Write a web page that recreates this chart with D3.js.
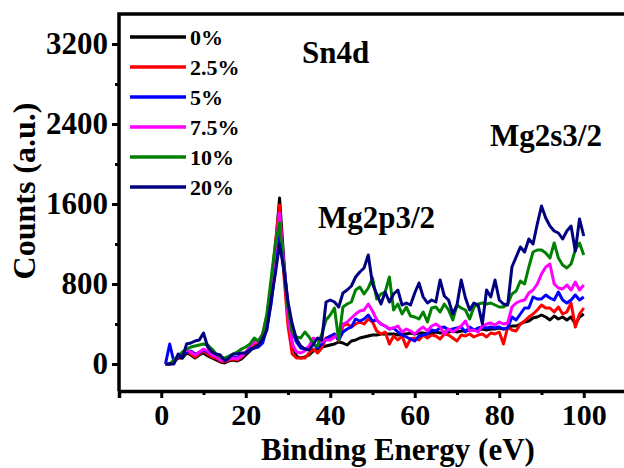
<!DOCTYPE html>
<html>
<head>
<meta charset="utf-8">
<script src="https://cdn.jsdelivr.net/npm/d3@7"></script>
<style>
  html, body { margin: 0; padding: 0; background: #fff; }
  svg text { font-family: "Liberation Serif", "Times New Roman", serif; font-weight: bold; }
</style>
</head>
<body>
<script>
// binding energy (eV), one point per eV
const energy = [1,2,3,4,5,6,7,8,9,10,11,12,13,14,15,16,17,18,19,20,
  21,22,23,24,25,26,27,28,29,30,31,32,33,34,35,36,37,38,39,40,
  41,42,43,44,45,46,47,48,49,50,51,52,53,54,55,56,57,58,59,60,
  61,62,63,64,65,66,67,68,69,70,71,72,73,74,75,76,77,78,79,80,
  81,82,83,84,85,86,87,88,89,90,91,92,93,94,95,96,97,98,99,100];

// counts
const c0 = [0,0,20,60,60,110,90,60,90,110,80,60,40,20,10,30,40,30,50,90,
  130,170,190,250,420,700,1150,1660,1050,500,200,80,60,70,90,130,150,170,180,190,
  200,220,210,190,230,240,260,270,280,290,290,300,300,300,300,290,300,300,310,300,
  310,310,300,310,320,310,320,320,330,320,330,330,340,340,340,350,340,350,350,360,
  350,360,380,380,400,420,430,460,470,490,470,440,480,450,470,440,470,400,470,500];
const c25 = [0,0,30,70,90,130,100,70,100,130,100,70,60,30,20,40,50,40,70,110,
  160,200,210,280,460,760,1200,1590,900,380,100,60,60,60,110,150,110,160,260,270,
  300,230,380,400,370,400,420,400,450,420,330,300,320,200,280,240,280,170,250,260,
  240,290,260,290,280,250,300,290,260,230,290,280,300,270,290,300,270,310,300,320,
  200,370,340,330,400,430,470,500,540,590,560,560,520,570,500,520,610,370,500,560];
const c5 = [0,200,20,80,90,120,130,100,110,140,120,90,70,50,40,60,70,60,90,110,
  140,160,170,210,360,600,950,1310,1000,600,330,220,160,150,170,200,160,200,250,280,
  300,240,320,350,370,450,430,450,490,430,440,400,380,350,360,320,290,270,250,230,
  280,290,300,340,330,360,370,340,350,360,370,320,370,340,360,370,360,370,360,370,
  350,360,470,440,500,560,560,670,650,650,690,660,640,720,640,610,640,690,640,670];
const c75 = [0,0,30,80,110,140,120,90,120,150,130,90,70,40,30,50,60,50,80,120,
  170,220,230,300,480,780,1150,1510,1000,480,200,120,110,130,180,260,240,220,240,240,
  270,300,400,420,460,500,530,540,600,530,440,400,380,350,360,380,320,350,330,300,
  340,370,330,380,400,370,300,350,320,350,380,430,330,340,320,380,400,410,390,420,
  400,410,570,610,630,640,710,740,800,900,970,1000,800,760,750,790,740,820,740,790];
const c10 = [0,0,40,80,120,150,170,180,190,200,190,150,100,70,60,80,100,120,150,170,
  200,260,230,300,500,850,1200,1410,950,560,320,270,260,320,270,200,180,300,440,490,
  560,240,570,600,620,740,770,700,760,860,650,700,720,870,540,600,500,570,480,470,
  450,520,420,560,570,520,600,540,440,590,560,540,450,570,600,610,600,610,590,570,
  570,600,700,730,830,800,970,1120,1140,1140,1110,1060,1210,1060,990,960,1000,1140,1210,1090];
const c20 = [0,0,0,100,60,200,210,230,240,310,170,120,100,90,30,60,100,100,110,110,
  150,160,190,250,340,640,900,1200,950,620,400,250,180,150,140,200,260,240,620,640,
  620,570,710,740,780,870,920,960,1090,800,700,600,720,620,700,740,590,610,590,710,
  810,670,610,640,620,840,680,640,500,590,840,660,540,610,590,400,740,670,840,640,
  600,590,970,1070,1170,1120,1250,1200,1400,1580,1460,1380,1330,1310,1250,1330,1380,1130,1450,1280];

const seriesNames = ['0%', '2.5%', '5%', '7.5%', '10%', '20%'];
const seriesColors = ['#000000', '#ff0000', '#0000ff', '#ff00ff', '#008000', '#000080'];
const seriesValues = [c0, c25, c5, c75, c10, c20];

const yTicks = [0, 800, 1600, 2400, 3200];
const yMinor = [400, 1200, 2000, 2800];
const xTicks = [0, 20, 40, 60, 80, 100];
const xMinor = [-10, 10, 30, 50, 70, 90, 110];

const width = 624;
const height = 468;
const plot = { left: 119, right: 626, top: 14, bottom: 391 };

const x = d3.scaleLinear().domain([-10, 110]).range([plot.left, plot.right]);
const y = d3.scaleLinear().domain([-270, 3500]).range([plot.bottom, plot.top]);

const svg = d3.select('body').append('svg')
  .attr('width', width)
  .attr('height', height);

// spectra, 0% drawn first so 20% sits on top
const line = d3.line()
  .x((d, i) => x(energy[i]))
  .y(d => y(d));

svg.append('g')
  .selectAll('path')
  .data(seriesValues)
  .enter()
  .append('path')
  .attr('d', line)
  .attr('fill', 'none')
  .attr('stroke', (d, i) => seriesColors[i])
  .attr('stroke-width', 3)
  .attr('stroke-linejoin', 'round');

// frame: top, left, bottom (right edge falls off the picture)
svg.append('path')
  .attr('d', `M${plot.left},${plot.bottom}V${plot.top}H${plot.right}`)
  .attr('fill', 'none')
  .attr('stroke', '#000')
  .attr('stroke-width', 3.5);

// axes
const xAxis = d3.axisBottom(x).tickValues(xTicks).tickSize(7).tickPadding(6).tickFormat(d3.format('d'));
const gx = svg.append('g')
  .attr('transform', `translate(0,${plot.bottom})`)
  .call(xAxis);
gx.selectAll('.tick line').attr('stroke-width', 3);
gx.selectAll('.tick text').attr('font-size', 30).attr('fill', '#000');
gx.select('.domain').attr('stroke-width', 3.5);

svg.append('g')
  .attr('transform', `translate(0,${plot.bottom})`)
  .call(d3.axisBottom(x).tickValues(xMinor).tickSize(4).tickFormat(''))
  .call(g => g.select('.domain').remove())
  .selectAll('.tick line').attr('stroke-width', 3);

const yAxis = d3.axisLeft(y).tickValues(yTicks).tickSize(7).tickPadding(4).tickFormat(d3.format('d'));
const gy = svg.append('g')
  .attr('transform', `translate(${plot.left},0)`)
  .call(yAxis);
gy.selectAll('.tick line').attr('stroke-width', 3);
gy.selectAll('.tick text').attr('font-size', 31).attr('fill', '#000');
gy.select('.domain').remove();

svg.append('g')
  .attr('transform', `translate(${plot.left},0)`)
  .call(d3.axisLeft(y).tickValues(yMinor).tickSize(4).tickFormat(''))
  .call(g => g.select('.domain').remove())
  .selectAll('.tick line').attr('stroke-width', 3);

// axis titles
svg.append('text')
  .attr('x', 398)
  .attr('y', 460)
  .attr('text-anchor', 'middle')
  .attr('font-size', 31)
  .text('Binding Energy (eV)');

svg.append('text')
  .attr('transform', 'translate(35,191) rotate(-90)')
  .attr('text-anchor', 'middle')
  .attr('font-size', 32)
  .text('Counts (a.u.)');

// legend
const legend = svg.append('g');
seriesNames.forEach((name, i) => {
  const ly = 37 + i * 30;
  legend.append('line')
    .attr('x1', 130).attr('x2', 186)
    .attr('y1', ly).attr('y2', ly)
    .attr('stroke', seriesColors[i])
    .attr('stroke-width', 3.5);
  legend.append('text')
    .attr('x', 190)
    .attr('y', ly + 8)
    .attr('font-size', 22)
    .text(name);
});

// peak labels
svg.append('text').attr('x', 302).attr('y', 63).attr('font-size', 31).text('Sn4d');
svg.append('text').attr('x', 490).attr('y', 146).attr('font-size', 31).text('Mg2s3/2');
svg.append('text').attr('x', 318).attr('y', 228).attr('font-size', 31).text('Mg2p3/2');
</script>
</body>
</html>
